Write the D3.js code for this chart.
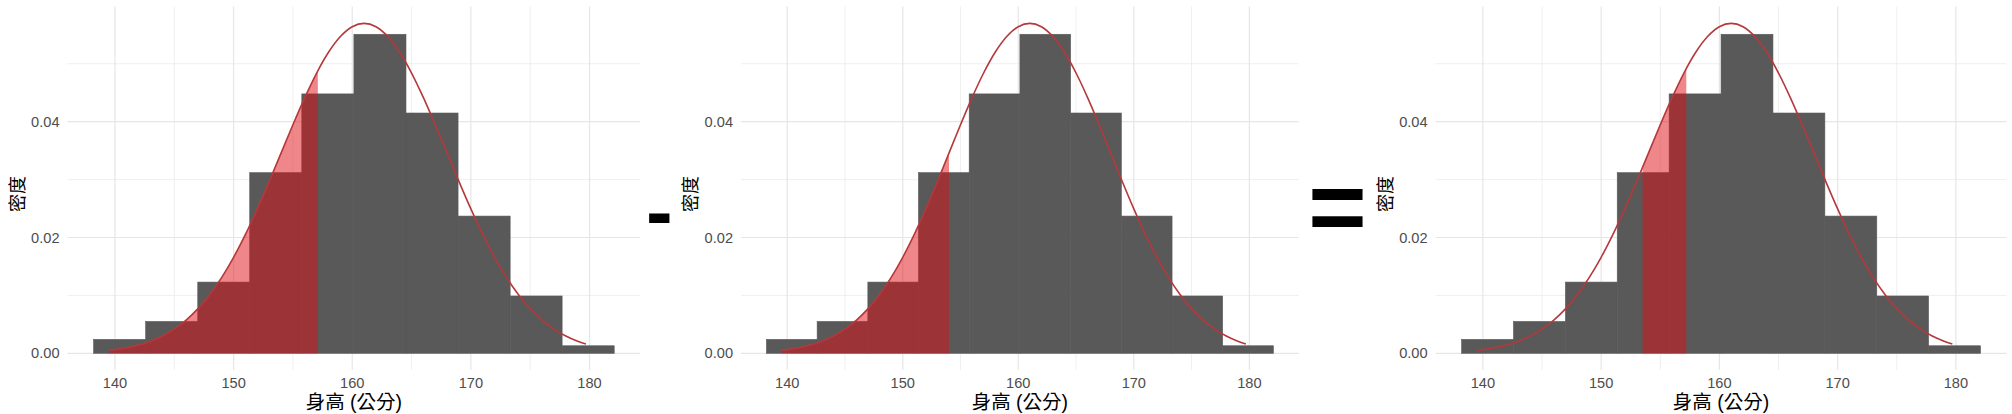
<!DOCTYPE html>
<html>
<head>
<meta charset="utf-8">
<script src="https://cdn.jsdelivr.net/npm/d3@7"></script>
<style>
  html, body { margin: 0; padding: 0; background: #ffffff; }
  svg { display: block; }
  text { font-family: "Liberation Sans", Arial, "Noto Sans CJK TC", "Noto Sans CJK SC", sans-serif; }
</style>
</head>
<body>
<svg id="chart" width="2012" height="414"></svg>
<script>
// ---------------- data ----------------
const binEdges = [138.2, 142.59, 146.98, 151.36, 155.75, 160.14, 164.53, 168.92, 173.31, 177.69, 182.08];
const binDensity = [0.0024, 0.0055, 0.0123, 0.0312, 0.0448, 0.0551, 0.0415, 0.0237, 0.0099, 0.0013];

const curveX = [139.5, 140, 141, 142, 143, 144, 145, 146, 147, 148, 149, 150, 151, 152, 153, 154, 155, 156, 157, 158, 159, 160,
                161, 162, 163, 164, 165, 166, 167, 168, 169, 170, 171, 172, 173, 174, 175, 176, 177, 178, 179, 179.7];
const curveY = [0.00051, 0.00063, 0.00096, 0.00143, 0.00209, 0.00299, 0.00418, 0.00574, 0.00771, 0.01016, 0.01311, 0.01658,
                0.02054, 0.02494, 0.02966, 0.03457, 0.03947, 0.04416, 0.04841, 0.05199, 0.05471, 0.05641,
                0.05699, 0.05641, 0.05471, 0.05199, 0.04841, 0.04416, 0.03947, 0.03457, 0.02966, 0.02494, 0.02054,
                0.01658, 0.01311, 0.01016, 0.00771, 0.00574, 0.00418, 0.00299, 0.00209, 0.00161];

const shadeFrom = [null, null, 153.5];
const shadeTo   = [157.1, 154.0, 157.2];

const xTicks = [140, 150, 160, 170, 180];
const xMinor = [145, 155, 165, 175];
const yTicks = [0, 0.02, 0.04];
const yTickLabels = ["0.00", "0.02", "0.04"];
const yMinor = [0.01, 0.03, 0.05];

const xTitle = "身高 (公分)";
const yTitle = "密度";
const operators = ["-", "="];

// ---------------- layout ----------------
const xDomain = [136.0, 184.28];
const panelRanges = [[67.5, 640.3], [741.0, 1298.8], [1435.6, 2006.5]];
const yScale = d3.scaleLinear().domain([0, 0.04]).range([353.3, 121.7]);
const panelTop = 6.5, panelBottom = 370;

const COL_BAR = "#595959";
const COL_SHADE = "rgba(224, 16, 22, 0.5)";
const COL_LINE = "#b5383b";
const COL_GRID = "#e6e6e6";

const svg = d3.select("#chart");
const points = curveX.map((x, i) => ({ x, y: curveY[i] }));
const bins = binDensity.map((d, i) => ({ x0: binEdges[i], x1: binEdges[i + 1], d }));

panelRanges.forEach((rng, p) => {
  const x = d3.scaleLinear().domain(xDomain).range(rng);
  const g = svg.append("g");

  // grid
  const grid = g.append("g");
  grid.selectAll("line.ymin").data(yMinor).join("line")
    .attr("x1", rng[0]).attr("x2", rng[1])
    .attr("y1", d => yScale(d)).attr("y2", d => yScale(d))
    .attr("stroke", "#ededed").attr("stroke-width", 0.9);
  grid.selectAll("line.xmin").data(xMinor).join("line")
    .attr("y1", panelTop).attr("y2", panelBottom)
    .attr("x1", d => x(d)).attr("x2", d => x(d))
    .attr("stroke", "#ededed").attr("stroke-width", 0.9);
  grid.selectAll("line.ymaj").data(yTicks).join("line")
    .attr("x1", rng[0]).attr("x2", rng[1])
    .attr("y1", d => yScale(d)).attr("y2", d => yScale(d))
    .attr("stroke", COL_GRID).attr("stroke-width", 1.2);
  grid.selectAll("line.xmaj").data(xTicks).join("line")
    .attr("y1", panelTop).attr("y2", panelBottom)
    .attr("x1", d => x(d)).attr("x2", d => x(d))
    .attr("stroke", COL_GRID).attr("stroke-width", 1.2);

  // histogram
  g.append("g").selectAll("rect").data(bins).join("rect")
    .attr("x", d => x(d.x0))
    .attr("width", d => x(d.x1) - x(d.x0))
    .attr("y", d => yScale(d.d))
    .attr("height", d => yScale(0) - yScale(d.d))
    .attr("fill", COL_BAR)
    .attr("stroke", COL_BAR)
    .attr("stroke-width", 0.6);

  // shaded area under curve, clipped to interval
  const lo = shadeFrom[p] == null ? xDomain[0] : shadeFrom[p];
  const hi = shadeTo[p] == null ? xDomain[1] : shadeTo[p];
  const clipId = "clip" + p;
  svg.append("clipPath").attr("id", clipId).append("rect")
    .attr("x", x(lo)).attr("width", x(hi) - x(lo))
    .attr("y", 0).attr("height", 414);
  const area = d3.area().x(d => x(d.x)).y0(yScale(0)).y1(d => yScale(d.y)).curve(d3.curveMonotoneX);
  g.append("path").datum(points)
    .attr("d", area)
    .attr("fill", COL_SHADE)
    .attr("clip-path", `url(#${clipId})`);

  // curve line
  const line = d3.line().x(d => x(d.x)).y(d => yScale(d.y)).curve(d3.curveMonotoneX);
  g.append("path").datum(points)
    .attr("d", line)
    .attr("fill", "none")
    .attr("stroke", COL_LINE)
    .attr("stroke-width", 1.6);

  // axes labels
  g.append("g").selectAll("text").data(xTicks).join("text")
    .attr("x", d => x(d)).attr("y", 388)
    .attr("text-anchor", "middle")
    .attr("font-size", "14.6px")
    .attr("fill", "#4d4d4d")
    .text(d => d);
  g.append("g").selectAll("text").data(yTicks).join("text")
    .attr("x", rng[0] - 8).attr("y", d => yScale(d))
    .attr("dy", "0.35em")
    .attr("text-anchor", "end")
    .attr("font-size", "14.6px")
    .attr("fill", "#4d4d4d")
    .text((d, i) => yTickLabels[i]);

  g.append("text")
    .attr("x", (rng[0] + rng[1]) / 2).attr("y", 409)
    .attr("text-anchor", "middle")
    .attr("font-size", "19.5px")
    .attr("fill", "#000")
    .text(xTitle);

  g.append("text")
    .attr("transform", `translate(${rng[0] - 50},194) rotate(-90)`)
    .attr("text-anchor", "middle")
    .attr("dominant-baseline", "central")
    .attr("font-size", "18px")
    .attr("fill", "#000")
    .text(yTitle);
});

// operators between panels
const opPos = [[659.2, 211], [1337.5, 205.5]];
operators.forEach((op, i) => {
  svg.append("text")
    .attr("x", opPos[i][0]).attr("y", opPos[i][1])
    .attr("text-anchor", "middle")
    .attr("dominant-baseline", "central")
    .attr("font-weight", "bold")
    .attr("font-size", i === 0 ? "80px" : "100px")
    .attr("fill", "#000")
    .text(op);
});
</script>
</body>
</html>
